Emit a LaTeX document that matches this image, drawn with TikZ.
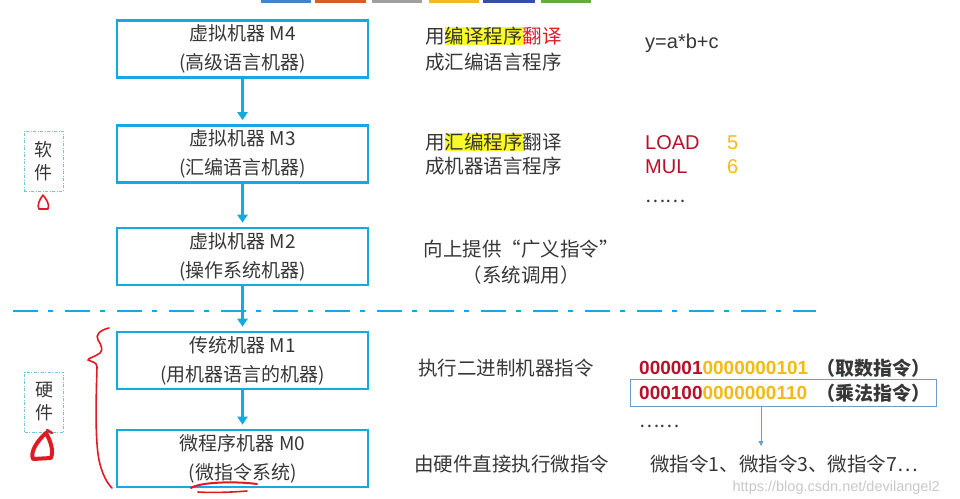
\documentclass[tikz,border=0pt]{standalone}
\usepackage{fontspec}
\setmainfont{Noto Sans CJK SC}
\newfontfamily\arialf{Liberation Sans}
\usetikzlibrary{arrows.meta}
\definecolor{cyanb}{RGB}{20,170,225}
\definecolor{lcyan}{RGB}{110,195,225}
\definecolor{txt}{RGB}{55,55,55}
\definecolor{hired}{RGB}{225,25,35}
\definecolor{darkred}{RGB}{185,15,40}
\definecolor{gold}{RGB}{245,185,20}
\definecolor{hl}{RGB}{250,250,40}
\definecolor{steel}{RGB}{110,155,205}
\definecolor{wm}{RGB}{200,200,200}
\tikzset{
  mbox/.style={draw=cyanb, line width=2.6pt, minimum width=251pt, minimum height=57pt,
    inner sep=0pt, align=center, text=txt, font=\fontsize{19}{29}\selectfont},
  flow/.style={draw=cyanb, line width=2.4pt, -{Triangle[length=8pt,width=10pt]}, shorten >=4pt},
  side/.style={anchor=west, inner sep=0pt, text=txt, font=\fontsize{19.5}{26}\selectfont},
  lbl/.style={draw=lcyan, line width=0.8pt, dash pattern=on 3pt off 1.5pt on 1pt off 1.5pt,
    minimum width=39pt, minimum height=60pt, inner sep=0pt, align=center, text=txt,
    font=\fontsize{18}{23}\selectfont},
  redink/.style={draw=hired, line width=1.6pt, line cap=round, line join=round},
}
\newcommand{\hlbox}[1]{{\setlength{\fboxsep}{0pt}\colorbox{hl}{#1}}}
\begin{document}
\begin{tikzpicture}[x=1pt,y=-1pt]
\useasboundingbox (0,0) rectangle (960,498);
% top toolbar slivers
\fill[fill={rgb,255:red,70;green,130;blue,200}] (261,0) rectangle (311,2.5);
\fill[fill={rgb,255:red,220;green,90;blue,40}] (315,0) rectangle (366,2.5);
\fill[fill={rgb,255:red,160;green,160;blue,160}] (372,0) rectangle (422,2.5);
\fill[fill={rgb,255:red,240;green,185;blue,30}] (429,0) rectangle (479,2.5);
\fill[fill={rgb,255:red,50;green,80;blue,170}] (483,0) rectangle (535,2.5);
\fill[fill={rgb,255:red,100;green,170;blue,60}] (541,0) rectangle (591,2.5);

% machine boxes
\node[mbox] (m4) at (242.5,49) {虚拟机器 M4\\(高级语言机器)};
\node[mbox] (m3) at (242.5,154) {虚拟机器 M3\\(汇编语言机器)};
\node[mbox] (m2) at (242.5,256.5) {虚拟机器 M2\\(操作系统机器)};
\node[mbox] (m1) at (242.5,360.5) {传统机器 M1\\(用机器语言的机器)};
\node[mbox] (m0) at (242.5,458.5) {微程序机器 M0\\(微指令系统)};

\draw[flow] (m4) -- (m3);
\draw[flow] (m3) -- (m2);
\draw[flow] (m2) -- (m1);
\draw[flow] (m1) -- (m0);

% dash-dot separator
\coordinate (sepL) at (13,311);
\coordinate (sepR) at (816,311);
\draw[cyanb, line width=2.8pt, dash pattern=on 25pt off 10pt on 5pt off 12pt] (sepL) -- (sepR);

% side labels
\node[lbl] (soft) at (43.5,161) {软\\件};
\node[lbl] (hard) at (44,402) {硬\\件};

% red hand marks
\draw[redink] (43,195) .. controls (39,200) and (37,206) .. (39,209) -- (48,209) .. controls (50,204) and (46,199) .. (43,195);
\draw[redink, line width=4pt] (46,433) .. controls (37,441) and (30,452) .. (33,459) -- (51,458) .. controls (54,450) and (50,440) .. (46,433);
\draw[redink, line width=2.5pt] (47,430) -- (52,433);
\draw[redink] (109,328) .. controls (100,330) and (95,335) .. (98,340) .. controls (102,346) and (103,350) .. (100,353) .. controls (95,357) and (88,358) .. (88,360) .. controls (92,362) and (97,362) .. (97,367) .. controls (96,400) and (95,440) .. (99,460) .. controls (102,474) and (107,483) .. (112,488);
\draw[redink, line width=2pt] (191,488) .. controls (200,482) and (235,481) .. (257,484);
\draw[redink, line width=1.6pt] (198,492) .. controls (215,493) and (235,492) .. (247,491);

% right-hand texts
\node[side] (t4a) at (425,36) {用\hlbox{编译程序}\textcolor{hired}{翻译}};
\node[side] (t4b) at (425,62) {成汇编语言程序};
\node[side, font=\arialf\fontsize{20}{24}\selectfont] (y) at (645,43) {y=a*b+c};

\node[side] (t3a) at (425,142) {用\hlbox{汇编程序}翻译};
\node[side] (t3b) at (425,166) {成机器语言程序};
\node[side, text=darkred, font=\arialf\fontsize{20}{24}\selectfont] (load) at (645,143) {LOAD};
\node[side, text=gold, font=\arialf\fontsize{20}{24}\selectfont] (n5) at (727,143) {5};
\node[side, text=darkred, font=\arialf\fontsize{20}{24}\selectfont] (mul) at (645,167) {MUL};
\node[side, text=gold, font=\arialf\fontsize{20}{24}\selectfont] (n6) at (727,167) {6};
\node[side, font=\fontsize{19}{24}\selectfont] (dots1) at (645,201) {……};

\node[side, anchor=center, align=center] (t2) at (521,262) {向上提供“广义指令”\\（系统调用）};

\node[side] (t1) at (418,368) {执行二进制机器指令};
\node[side, font=\arialf\bfseries\fontsize{19}{24}\selectfont] (b1) at (639,368) {\textcolor{darkred}{000001}\textcolor{gold}{0000000101}};
\node[side, font=\bfseries\fontsize{19}{24}\selectfont] (c1) at (816,368) {（取数指令）};
\node[draw=steel, line width=0.9pt, minimum width=306pt, minimum height=27pt, inner sep=0pt] (sel) at (783,392.5) {};
\node[side, font=\arialf\bfseries\fontsize{19}{24}\selectfont] (b2) at (639,393) {\textcolor{darkred}{000100}\textcolor{gold}{0000000110}};
\node[side, font=\bfseries\fontsize{19}{24}\selectfont] (c2) at (816,393) {（乘法指令）};
\node[side, font=\fontsize{19}{24}\selectfont] (dots2) at (639,426) {……};
\coordinate (tip) at (761,446);
\draw[steel, line width=0.8pt, -{Triangle[length=5pt,width=5pt]}] (sel.south -| tip) -- (tip);

\node[side] (t0) at (414,464) {由硬件直接执行微指令};
\node[side] (mi) at (650,464) {微指令1、微指令3、微指令7…};

\node[anchor=east, inner sep=0pt, text=wm, font=\arialf\fontsize{14.5}{18}\selectfont] (wmk) at (940,488) {https://blog.csdn.net/devilangel2};
\end{tikzpicture}
\end{document}
